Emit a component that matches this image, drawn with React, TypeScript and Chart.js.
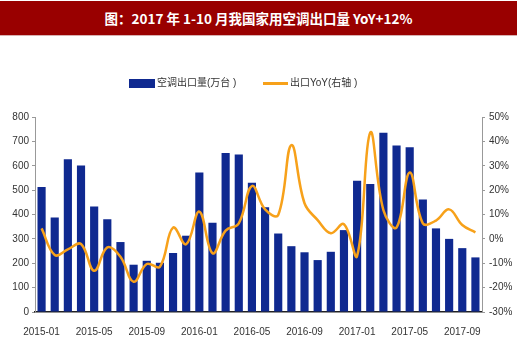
import React, { useEffect, useRef } from "react";
import { Chart, registerables } from "chart.js";

Chart.register(...registerables);

const months: string[] = [
  "2015-01","2015-02","2015-03","2015-04","2015-05","2015-06","2015-07","2015-08","2015-09","2015-10","2015-11","2015-12",
  "2016-01","2016-02","2016-03","2016-04","2016-05","2016-06","2016-07","2016-08","2016-09","2016-10","2016-11","2016-12",
  "2017-01","2017-02","2017-03","2017-04","2017-05","2017-06","2017-07","2017-08","2017-09","2017-10",
];

const exportVolume: number[] = [
  513, 388, 627, 601, 433, 381, 287, 194, 210, 202, 242, 313,
  572, 366, 652, 646, 530, 430, 322, 270, 245, 213, 247, 336,
  538, 525, 735, 683, 676, 462, 343, 300, 262, 224,
];

const exportYoY: number[] = [
  4.3, -6.6, -4.3, -2.1, -13.1, -3.5, -7.3, -17.6, -10.3, -11.4, 4.6, -2.2,
  11.2, -5.9, 3.4, 6.4, 21.7, 12.1, 9.8, 38.5, 14.6, 7.7, 2.3, 6.0,
  -7.0, 43.6, 11.8, 4.7, 27.2, 6.4, 7.5, 12.1, 5.7, 2.7,
];

const title = "图：2017 年 1-10 月我国家用空调出口量 YoY+12%";
const barLabel = "空调出口量(万台 )";
const lineLabel = "出口YoY(右轴 )";

const BAR_COLOR = "#0F2990";
const LINE_COLOR = "#F7A11A";

export default function App() {
  const ref = useRef<HTMLCanvasElement | null>(null);

  useEffect(() => {
    if (!ref.current) return;
    const chart = new Chart(ref.current, {
      type: "bar",
      data: {
        labels: months,
        datasets: [
          {
            type: "line",
            label: lineLabel,
            data: exportYoY,
            yAxisID: "y1",
            borderColor: LINE_COLOR,
            backgroundColor: LINE_COLOR,
            borderWidth: 2.5,
            pointRadius: 0,
            tension: 0.4,
            order: 0,
          } as any,
          {
            type: "bar",
            label: barLabel,
            data: exportVolume,
            yAxisID: "y",
            backgroundColor: BAR_COLOR,
            categoryPercentage: 0.62,
            barPercentage: 1,
            order: 1,
          } as any,
        ],
      },
      options: {
        responsive: false,
        animation: false,
        layout: { padding: { top: 117, left: 0, right: 0, bottom: 0 } },
        plugins: { legend: { display: false }, title: { display: false }, tooltip: { enabled: false } },
        scales: {
          x: {
            offset: true,
            grid: { display: false },
            border: { display: true, color: "#222", width: 1.5 },
            ticks: {
              autoSkip: false,
              maxRotation: 0,
              minRotation: 0,
              padding: 6,
              color: "#333",
              font: { family: "Liberation Sans, Arial", size: 10 },
              callback: (_v: any, i: number) => (i % 4 === 0 ? months[i] : ""),
            },
            afterFit: (s: any) => { s.height = 36; },
          },
          y: {
            position: "left",
            min: 0,
            max: 800,
            ticks: {
              stepSize: 100,
              padding: 3,
              color: "#333",
              font: { family: "Liberation Sans, Arial", size: 10 },
            },
            grid: { display: true, drawOnChartArea: false, drawTicks: true, tickLength: 3, color: "#999" },
            border: { display: true, color: "#999" },
            afterFit: (s: any) => { s.width = 35; },
          },
          y1: {
            position: "right",
            min: -30,
            max: 50,
            ticks: {
              stepSize: 10,
              padding: 4,
              color: "#333",
              font: { family: "Liberation Sans, Arial", size: 10 },
              callback: (v: any) => `${v}%`,
            },
            grid: { display: true, drawOnChartArea: false, drawTicks: true, tickLength: 3, color: "#999" },
            border: { display: true, color: "#999" },
            afterFit: (s: any) => { s.width = 38; },
          },
        },
      },
    });
    return () => chart.destroy();
  }, []);

  const legendText: React.CSSProperties = {
    position: "absolute",
    top: 77,
    fontSize: 10,
    lineHeight: "12px",
    color: "#333",
    fontFamily: "Liberation Sans, 'Noto Sans CJK SC', sans-serif",
    whiteSpace: "nowrap",
  };

  return (
    <div style={{ position: "absolute", left: 0, top: 0, width: 520, height: 348, background: "#fff", overflow: "hidden" }}>
      <div
        style={{
          position: "absolute",
          left: 0,
          top: 1,
          width: 517,
          height: 34,
          background: "#990000",
          color: "#fff",
          fontFamily: "'Noto Sans CJK SC', sans-serif",
          fontWeight: 700,
          fontSize: 13.5,
          lineHeight: "34px",
          textAlign: "center",
          borderBottom: "1px solid #d8b0b0",
        }}
      >
        {title}
      </div>
      <canvas ref={ref} width={520} height={348} style={{ position: "absolute", left: 0, top: 0 }} />
      <div style={{ position: "absolute", left: 129, top: 79, width: 26, height: 9, background: BAR_COLOR }} />
      <div style={{ ...legendText, left: 157 }}>{barLabel}</div>
      <div style={{ position: "absolute", left: 263, top: 82, width: 25, height: 2.5, background: LINE_COLOR }} />
      <div style={{ ...legendText, left: 290 }}>{lineLabel}</div>
    </div>
  );
}
